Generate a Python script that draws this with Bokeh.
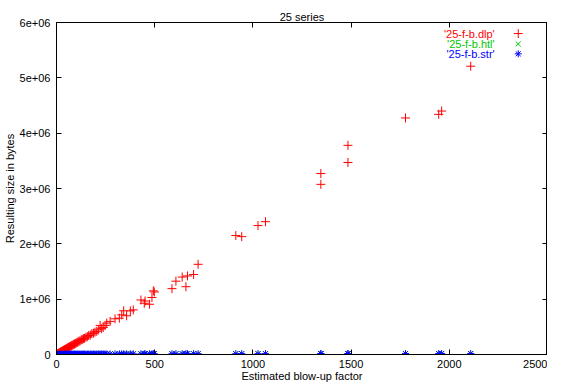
from bokeh.plotting import figure
from bokeh.models import FixedTicker, LinearAxis, Label, ColumnDataSource
from bokeh.embed import file_html
from bokeh.resources import INLINE

# ---------------- data ----------------
title_text = "25 series"
x_label = "Estimated blow-up factor"
y_label = "Resulting size in bytes"

x_ticks = [0, 500, 1000, 1500, 2000, 2500]
x_tick_labels = ["0", "500", "1000", "1500", "2000", "2500"]
y_ticks = [0, 1e6, 2e6, 3e6, 4e6, 5e6, 6e6]
y_tick_labels = ["0", "1e+06", "2e+06", "3e+06", "4e+06", "5e+06", "6e+06"]

series_names = ["'25-f-b.dlp'", "'25-f-b.htl'", "'25-f-b.str'"]

blowup = [3, 6, 9, 11, 14, 17, 20, 23, 26, 29,
          32, 35, 38, 41, 44, 47, 50, 54, 57, 61,
          65, 68, 72, 76, 80, 84, 88, 92, 96, 101,
          106, 110, 115, 120, 126, 131, 137, 143, 150, 157,
          164, 172, 180, 188, 196, 205, 213, 222, 230, 238,
          247, 256, 273, 298, 320, 332, 342, 357, 376, 391,
          430, 447, 451, 474, 486, 493, 498, 588, 608, 640,
          659, 667, 698, 721, 913, 943, 1026, 1064, 1346, 1346,
          1484, 1484, 1777, 1946, 1961, 2109]

dlp_size = [6e3, 13e3, 17e3, 24e3, 29e3, 37e3, 41e3, 50e3, 53e3, 62e3,
            66e3, 74e3, 79e3, 88e3, 91e3, 99e3, 106e3, 112e3, 121e3, 127e3,
            137e3, 141e3, 152e3, 158e3, 168e3, 173e3, 185e3, 190e3, 201e3, 208e3,
            222e3, 228e3, 241e3, 247e3, 264e3, 270e3, 287e3, 293e3, 313e3, 322e3,
            343e3, 352e3, 376e3, 385e3, 405e3, 419e3, 445e3, 526e3, 466e3, 490e3,
            526e3, 568e3, 598e3, 645e3, 657e3, 716e3, 790e3, 700e3, 788e3, 806e3,
            985e3, 926e3, 967e3, 908e3, 1030e3, 1150e3, 1130e3, 1190e3, 1325e3, 1400e3,
            1225e3, 1420e3, 1445e3, 1630e3, 2150e3, 2130e3, 2330e3, 2400e3, 3270e3, 3075e3,
            3780e3, 3470e3, 4275e3, 4340e3, 4400e3, 5210e3]

htl_size = [400, 700, 900, 1100, 1300, 1500, 1700, 1900, 2100, 2300,
            2500, 2700, 2900, 3100, 3300, 3500, 3700, 3900, 4100, 4300,
            4500, 4700, 4900, 5100, 5300, 5500, 5700, 5900, 6100, 6300,
            6500, 6700, 6900, 7100, 7300, 7500, 7700, 7900, 8100, 8300,
            8500, 8700, 8900, 9100, 9300, 9500, 9700, 9900, 10100, 10300,
            10500, 10700, 10900, 11100, 11300, 11500, 11700, 11900, 12100, 12300,
            12500, 12700, 12900, 13100, 13300, 13500, 13700, 13900, 14100, 14300,
            14500, 14700, 14900, 15100, 15300, 15500, 15700, 15900, 16100, 16300,
            16500, 16700, 16900, 17100, 17300, 17500]

str_size = [300, 600, 800, 1000, 1200, 1400, 1600, 1800, 2000, 2200,
            2400, 2600, 2800, 3000, 3200, 3400, 3600, 3800, 4000, 4200,
            4400, 4600, 4800, 5000, 5200, 5400, 5600, 5800, 6000, 6200,
            6400, 6600, 6800, 7000, 7200, 7400, 7600, 7800, 8000, 8200,
            8400, 8600, 8800, 9000, 9200, 9400, 9600, 9800, 10000, 10200,
            10400, 10600, 10800, 11000, 11200, 11400, 11600, 11800, 12000, 12200,
            12400, 12600, 12800, 13000, 13200, 13400, 13600, 13800, 14000, 14200,
            14400, 14600, 14800, 15000, 15200, 15400, 15600, 15800, 16000, 16200,
            16400, 16600, 16800, 17000, 17200, 17400]

# ---------------- style ----------------
FONT = "Liberation Sans"
FS = "11px"
RED = "#ff0000"
GREEN = "#00c800"
BLUE = "#0000ff"

p = figure(width=547, height=384, x_range=(0, 2500), y_range=(0, 6e6),
           output_backend="svg", toolbar_location=None, title=title_text,
           min_border_left=50, min_border_right=0, min_border_top=22,
           min_border_bottom=27)

p.title.align = "center"
p.title.text_font = FONT
p.title.text_font_size = FS
p.title.text_font_style = "normal"
p.title.text_color = "black"
p.title.standoff = 0
p.title.offset = 0

p.xgrid.visible = False
p.ygrid.visible = False
p.outline_line_color = "black"
p.outline_line_alpha = 1.0
p.outline_line_width = 1
p.background_fill_color = "white"
p.border_fill_color = "white"

def style_axis(ax, ticks, labels, show_labels):
    ax.ticker = FixedTicker(ticks=ticks)
    ax.major_tick_in = 5
    ax.major_tick_out = 0
    ax.minor_tick_line_color = None
    ax.axis_line_color = "black"
    ax.major_tick_line_color = "black"
    ax.major_label_text_font = FONT
    ax.major_label_text_color = "black"
    ax.axis_label_text_font = FONT
    ax.axis_label_text_font_size = FS
    ax.axis_label_text_font_style = "normal"
    ax.axis_label_text_color = "black"
    if show_labels:
        ax.major_label_overrides = {t: l for t, l in zip(ticks, labels)}
        ax.major_label_text_font_size = FS
    else:
        ax.major_label_overrides = {t: "" for t in ticks}
        ax.major_label_text_font_size = "1px"
        ax.major_label_standoff = 0

xa = p.xaxis[0]
style_axis(xa, x_ticks, x_tick_labels, True)
xa.axis_label = x_label
xa.major_label_standoff = 5
xa.axis_label_standoff = -1
xa.major_label_text_line_height = 0.9
xa.axis_label_text_line_height = 0.9

ya = p.yaxis[0]
style_axis(ya, y_ticks, y_tick_labels, True)
ya.axis_label = y_label
ya.major_label_standoff = 6
ya.axis_label_standoff = 1

top = LinearAxis()
style_axis(top, x_ticks, x_tick_labels, False)
p.add_layout(top, "above")
right = LinearAxis()
style_axis(right, y_ticks, y_tick_labels, False)
p.add_layout(right, "right")

src = ColumnDataSource(dict(x=blowup, dlp=dlp_size, htl=htl_size, s=str_size))
p.scatter("x", "dlp", source=src, marker="cross", size=9, line_color=RED, line_width=1)
p.scatter("x", "htl", source=src, marker="x", size=7, line_color=GREEN, line_width=1)
p.scatter("x", "s", source=src, marker="asterisk", size=7, line_color=BLUE, line_width=1)

# legend (gnuplot style: text right-aligned, sample to the right)
leg_text_x = 2231
leg_sample_x = 2351
leg_y = [5.80e6, 5.613e6, 5.434e6]
leg_colors = [RED, GREEN, BLUE]
leg_markers = ["cross", "x", "asterisk"]
leg_sizes = [9, 7, 7]
for name, yy, c, m, sz in zip(series_names, leg_y, leg_colors, leg_markers, leg_sizes):
    p.add_layout(Label(x=leg_text_x, y=yy, text=name, text_align="right",
                       text_baseline="middle", text_font=FONT, text_font_size=FS,
                       text_color=c))
    p.scatter([leg_sample_x], [yy], marker=m, size=sz, line_color=c, line_width=1)

open("out.html", "w").write(file_html(p, INLINE))
